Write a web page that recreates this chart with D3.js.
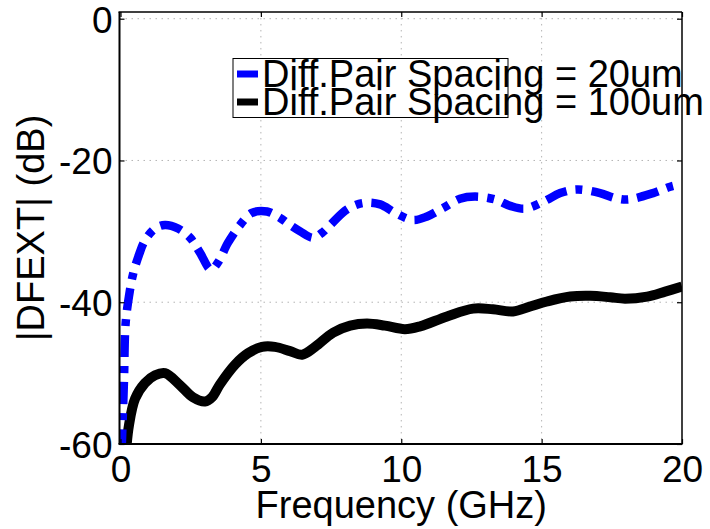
<!DOCTYPE html>
<html><head><meta charset="utf-8">
<script src="https://cdn.jsdelivr.net/npm/d3@7"></script>
<style>
html,body{margin:0;padding:0;background:#fff;}
svg{display:block;}
text{font-family:"Liberation Sans",Arial,Helvetica,sans-serif;fill:#000;}
</style></head>
<body>
<svg id="chart" width="710" height="529"></svg>
<script>
// ---- data ----
const freq20 = [0.04,0.125,0.18,0.3,0.45,0.66,0.87,1.23,1.585,2.05,2.48,2.83,3.22,3.47,3.83,4.26,4.68,5.22,5.68,6.04,6.4,6.86,7.18,7.47,8.07,8.64,9.25,9.78,10.42,10.92,11.49,12.09,12.63,13.34,13.88,14.41,15.12,15.66,16.26,17.08,17.62,18.08,18.97,19.58,20];
const dfext20 = [-61,-50.9,-43.1,-39.2,-36.0,-33.3,-31.3,-29.6,-29.1,-29.6,-30.9,-33.0,-35.4,-34.4,-31.6,-29.1,-27.4,-27.2,-28.1,-29.1,-30.0,-30.9,-30.2,-29.1,-26.9,-26.0,-26.2,-27.4,-28.4,-27.9,-26.7,-25.4,-25.1,-25.5,-26.4,-26.8,-25.7,-24.6,-24.1,-24.6,-25.3,-25.5,-24.6,-23.7,-23.3];
const freq100 = [0.2,0.3,0.52,0.87,1.23,1.585,2.12,2.58,3.01,3.26,3.54,4.08,4.54,5.04,5.5,6.04,6.47,6.93,7.57,8.18,8.78,9.42,10.13,10.67,11.63,12.56,13.27,13.98,14.59,15.19,16.02,16.73,17.44,17.97,18.76,19.4,20];
const dfext100 = [-61,-57.4,-53.6,-51.4,-50.3,-50.0,-51.7,-53.4,-54.0,-53.4,-51.6,-48.8,-47.2,-46.3,-46.3,-46.9,-47.4,-46.3,-44.3,-43.3,-43.0,-43.3,-43.8,-43.4,-42.0,-40.9,-41.0,-41.3,-40.6,-39.9,-39.2,-39.1,-39.3,-39.5,-39.2,-38.5,-37.8];
const xTicks = [0,5,10,15,20];
const yTicks = [0,-20,-40,-60];
const seriesNames = ["Diff.Pair Spacing = 20um","Diff.Pair Spacing = 100um"];
const xLabel = "Frequency (GHz)";
const yLabel = "|DFEXT| (dB)";

// ---- layout ----
const svg = d3.select("#chart");
const L = 119.5, R = 682, B = 444, T0 = 18.7;
const x = d3.scaleLinear().domain([0,20]).range([120.5,R]);
const y = d3.scaleLinear().domain([-60,0]).range([B,T0]);
const yTopLimit = 0.95;
const TOP = y(yTopLimit);

// gridlines
const grid = svg.append("g").attr("stroke","#b4b4b4").attr("stroke-width",1).attr("stroke-dasharray","1.5,4.5");
grid.selectAll("line.gx").data(xTicks.slice(1,-1)).join("line")
  .attr("x1",d=>x(d)).attr("x2",d=>x(d)).attr("y1",TOP).attr("y2",B);
grid.selectAll("line.gy").data(yTicks.slice(0,-1)).join("line")
  .attr("x1",L).attr("x2",R).attr("y1",d=>y(d)).attr("y2",d=>y(d));

// clip
svg.append("clipPath").attr("id","clip").append("rect")
  .attr("x",L).attr("y",TOP).attr("width",R-L).attr("height",B-TOP);

const line = d3.line().x(d=>x(d[0])).y(d=>y(d[1])).curve(d3.curveCatmullRom.alpha(0.5));
const d20 = freq20.map((f,i)=>[f,dfext20[i]]);
const d100 = freq100.map((f,i)=>[f,dfext100[i]]);
const plot = svg.append("g").attr("clip-path","url(#clip)");
plot.append("path").attr("d",line(d100)).attr("fill","none").attr("stroke","#000").attr("stroke-width",10);
plot.append("path").attr("d",line(d20)).attr("fill","none").attr("stroke","#0000ff").attr("stroke-width",8.5)
  .attr("stroke-dasharray","22,9,7,9");

// axes ticks
const ax = svg.append("g").attr("transform",`translate(0,${B})`)
  .call(d3.axisBottom(x).tickValues(xTicks).tickSizeInner(-5).tickSizeOuter(0).tickPadding(12).tickFormat(d3.format("d")));
const ay = svg.append("g").attr("transform",`translate(${L},0)`)
  .call(d3.axisLeft(y).tickValues(yTicks).tickSizeInner(-5).tickSizeOuter(0).tickPadding(7).tickFormat(d=>d3.format("d")(d).replace("−","-")));
const at = svg.append("g").attr("transform",`translate(0,${TOP})`)
  .call(d3.axisTop(x).tickValues(xTicks).tickSizeInner(-5).tickSizeOuter(0).tickFormat(""));
const ar = svg.append("g").attr("transform",`translate(${R},0)`)
  .call(d3.axisRight(y).tickValues(yTicks).tickSizeInner(-5).tickSizeOuter(0).tickFormat(""));
[ax,ay,at,ar].forEach(g=>{
  g.select(".domain").remove();
  g.selectAll(".tick line").attr("stroke","#000").attr("stroke-width",1.2);
  g.selectAll(".tick text").attr("font-size",37).attr("font-family",'"Liberation Sans",Arial,sans-serif').attr("fill","#000");
});
ay.selectAll(".tick text").attr("dy","0.36em");

// box
svg.append("line").attr("x1",L-1).attr("x2",R).attr("y1",TOP).attr("y2",TOP).attr("stroke","#000").attr("stroke-width",1.5);
svg.append("line").attr("x1",L-1).attr("x2",R+0.5).attr("y1",B).attr("y2",B).attr("stroke","#000").attr("stroke-width",1.8);
svg.append("line").attr("x1",L).attr("x2",L).attr("y1",TOP).attr("y2",B).attr("stroke","#000").attr("stroke-width",2);
svg.append("line").attr("x1",R).attr("x2",R).attr("y1",TOP).attr("y2",B).attr("stroke","#000").attr("stroke-width",1.5);

// axis labels
svg.append("text").attr("x",(x(0)+x(20))/2).attr("y",518).attr("text-anchor","middle").attr("font-size",38).text(xLabel);
svg.append("text").attr("transform",`translate(44,${(TOP+B)/2}) rotate(-90)`).attr("text-anchor","middle").attr("font-size",38).text(yLabel);

// legend
const lg = svg.append("g");
lg.append("rect").attr("x",233).attr("y",58.5).attr("width",275).attr("height",59).attr("fill","#fff").attr("stroke","#000").attr("stroke-width",1);
const legendColors = ["#0000ff","#000"];
const legendY = [74,102];
seriesNames.forEach((n,i)=>{
  lg.append("line").attr("x1",237).attr("x2",258).attr("y1",legendY[i]).attr("y2",legendY[i]).attr("stroke",legendColors[i]).attr("stroke-width",7);
  lg.append("text").attr("x",262).attr("y",legendY[i]+13).attr("font-size",38).text(n);
});
</script>
</body></html>
